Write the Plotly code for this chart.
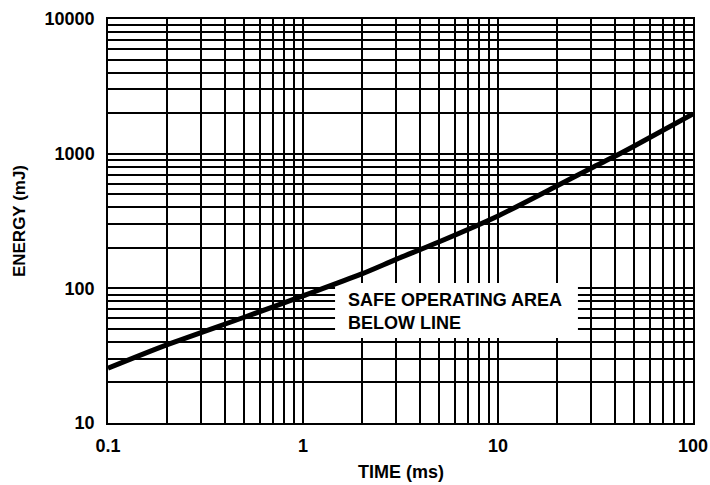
import plotly.graph_objects as go

# Data
time_ms = [0.1, 0.2, 0.5, 1, 2, 3, 5, 10, 20, 30, 40, 50, 100]
energy_mj = [25.5, 38, 61, 88, 128, 164, 222, 345, 575, 780, 960, 1140, 1970]

x_tickvals = [0.1, 0.2, 0.3, 0.4, 0.5, 0.6, 0.7, 0.8, 0.9,
              1, 2, 3, 4, 5, 6, 7, 8, 9,
              10, 20, 30, 40, 50, 60, 70, 80, 90, 100]
x_major = {0.1: "0.1", 1: "1", 10: "10", 100: "100"}
y_tickvals = [10, 20, 30, 40, 50, 60, 70, 80, 90,
              100, 200, 300, 400, 500, 600, 700, 800, 900,
              1000, 2000, 3000, 4000, 5000, 6000, 7000, 8000, 9000, 10000]
y_major = {10: "10", 100: "100", 1000: "1000", 10000: "10000"}

x_ticktext = [x_major.get(v, "") for v in x_tickvals]
y_ticktext = [y_major.get(v, "") for v in y_tickvals]

FONT = "Liberation Sans, Arial, sans-serif"

fig = go.Figure()
fig.add_trace(go.Scatter(
    x=time_ms, y=energy_mj, mode="lines",
    line=dict(color="black", width=5, shape="spline", smoothing=0.8),
    hoverinfo="skip", showlegend=False,
))

axis_common = dict(
    type="log",
    showgrid=True, gridcolor="black", gridwidth=1.5,
    showline=True, linecolor="black", linewidth=1.5, mirror=True,
    ticks="", zeroline=False,
    tickfont=dict(family=FONT, size=18, color="black", weight="bold"),
)

fig.update_xaxes(
    range=[-1, 2], tickmode="array", tickvals=x_tickvals, ticktext=x_ticktext,
    ticklabelstandoff=6, **axis_common,
)
fig.update_yaxes(
    range=[1, 4], tickmode="array", tickvals=y_tickvals, ticktext=y_ticktext,
    ticklabelstandoff=8, **axis_common,
)

# white box behind the note (between grid and line)
fig.add_shape(
    type="rect", xref="x", yref="y",
    x0=1.46, x1=25.7, y0=42.8, y1=109.5,
    fillcolor="white", line=dict(width=0), layer="between",
)

fig.add_annotation(
    xref="paper", yref="paper", x=0.4068, y=0.277,
    xanchor="left", yanchor="middle", align="left", showarrow=False,
    text="SAFE OPERATING AREA<br>BELOW LINE",
    font=dict(family=FONT, size=18, color="black", weight="bold"),
)

# axis titles
fig.add_annotation(
    xref="paper", yref="paper", x=-0.152, y=0.5,
    xanchor="center", yanchor="middle", textangle=-90, showarrow=False,
    text="ENERGY (mJ)",
    font=dict(family=FONT, size=17, color="black", weight="bold"),
)
fig.add_annotation(
    xref="paper", yref="paper", x=0.5, y=-0.1213,
    xanchor="center", yanchor="middle", showarrow=False,
    text="TIME (ms)",
    font=dict(family=FONT, size=18, color="black", weight="bold"),
)

fig.update_layout(
    width=710, height=485,
    margin=dict(l=108, r=17, t=19, b=62, autoexpand=False),
    paper_bgcolor="white", plot_bgcolor="white",
)

fig.write_html(
    "out.html",
    config={"displayModeBar": False},
    post_script="document.body.style.margin='0px';document.body.style.overflow='hidden';",
)
